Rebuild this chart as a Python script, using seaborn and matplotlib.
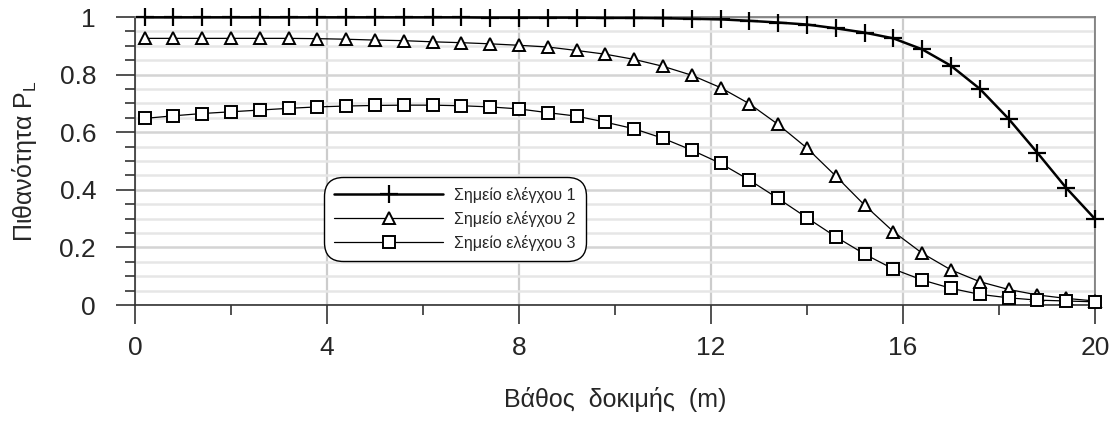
import pandas as pd
import seaborn as sns
import matplotlib.pyplot as plt
from matplotlib.ticker import MultipleLocator, FuncFormatter

depth = [0.2, 0.8, 1.4, 2.0, 2.6, 3.2, 3.8, 4.4, 5.0, 5.6, 6.2, 6.8, 7.4, 8.0, 8.6, 9.2, 9.8,
         10.4, 11.0, 11.6, 12.2, 12.8, 13.4, 14.0, 14.6, 15.2, 15.8, 16.4, 17.0, 17.6, 18.2,
         18.8, 19.4, 20.0]

point1 = [0.999, 0.999, 0.999, 0.999, 0.999, 0.999, 0.999, 0.999, 0.999, 0.999, 0.999, 0.999,
          0.998, 0.998, 0.998, 0.998, 0.997, 0.997, 0.996, 0.994, 0.992, 0.987, 0.981, 0.974,
          0.961, 0.946, 0.926, 0.888, 0.831, 0.751, 0.647, 0.529, 0.407, 0.299]

point2 = [0.926, 0.926, 0.926, 0.926, 0.926, 0.926, 0.925, 0.923, 0.920, 0.918, 0.914, 0.911,
          0.907, 0.902, 0.896, 0.884, 0.871, 0.853, 0.829, 0.798, 0.755, 0.699, 0.627, 0.545,
          0.448, 0.347, 0.255, 0.180, 0.122, 0.081, 0.054, 0.035, 0.023, 0.014]

point3 = [0.648, 0.657, 0.665, 0.671, 0.677, 0.683, 0.688, 0.691, 0.693, 0.694, 0.694, 0.692,
          0.688, 0.681, 0.668, 0.656, 0.635, 0.612, 0.579, 0.538, 0.492, 0.434, 0.370, 0.303,
          0.237, 0.177, 0.125, 0.087, 0.058, 0.037, 0.025, 0.017, 0.014, 0.011]

labels = ["Σημείο ελέγχου 1", "Σημείο ελέγχου 2", "Σημείο ελέγχου 3"]

df = pd.DataFrame({"depth": depth, labels[0]: point1, labels[1]: point2, labels[2]: point3})

sns.set_theme(style="white")
plt.rcParams['font.family'] = ['Liberation Sans', 'DejaVu Sans']
plt.rcParams['mathtext.default'] = 'regular'

fig = plt.figure(figsize=(11.15, 4.21), dpi=100)
ax = fig.add_axes([0.121, 0.2755, 0.861, 0.684])

# Series styles
styles = [
    dict(marker='+', markersize=13, markeredgewidth=1.6, linewidth=1.8),
    dict(marker='^', markersize=9, markeredgewidth=1.4, linewidth=0.9, markerfacecolor='white'),
    dict(marker='s', markersize=9, markeredgewidth=1.4, linewidth=0.9, markerfacecolor='white'),
]
for name, st in zip(labels, styles):
    sns.lineplot(data=df, x="depth", y=name, ax=ax, color='black', markeredgecolor='black',
                 label=name, clip_on=False, zorder=3, **st)

ax.set_xlim(0, 20)
ax.set_ylim(0, 1)
ax.xaxis.set_major_locator(MultipleLocator(4))
ax.xaxis.set_minor_locator(MultipleLocator(2))
ax.yaxis.set_major_locator(MultipleLocator(0.2))
ax.yaxis.set_minor_locator(MultipleLocator(0.05))
ax.yaxis.set_major_formatter(FuncFormatter(lambda v, p: f"{v:g}"))

ax.tick_params(which='major', direction='out', length=14, width=1.2, color='#333333',
               labelsize=19, bottom=True, left=True)
ax.tick_params(axis='x', which='major', pad=8)
ax.tick_params(axis='y', which='major', pad=14)
ax.tick_params(which='minor', direction='out', length=7, width=1.2, color='#333333',
               bottom=True, left=True)

ax.grid(which='major', axis='x', color='#cccccc', linewidth=1.6)
ax.grid(which='major', axis='y', color='#d4d4d4', linewidth=1.8)
ax.grid(which='minor', axis='y', color='#e6e6e6', linewidth=1.8)
ax.set_axisbelow(True)

for side in ['left', 'bottom']:
    ax.spines[side].set_color('#333333')
    ax.spines[side].set_linewidth(1.2)
for side in ['top', 'right']:
    ax.spines[side].set_color('#777777')
    ax.spines[side].set_linewidth(1.2)

ax.set_xlabel("Βάθος  δοκιμής  (m)", fontsize=18, labelpad=20)
ax.set_ylabel("Πιθανότητα P$_L$", fontsize=18, labelpad=15)

leg = ax.legend(loc='lower left', bbox_to_anchor=(0.192, 0.135), fontsize=11.5,
                handlelength=6.8, handletextpad=0.7, labelspacing=0.5, frameon=True,
                borderpad=0.45)
frame = leg.get_frame()
frame.set_edgecolor('black')
frame.set_linewidth(1.0)
frame.set_alpha(1)
frame.set_boxstyle('round,pad=0.2,rounding_size=1.2')

fig.savefig("out.png", dpi=100)
